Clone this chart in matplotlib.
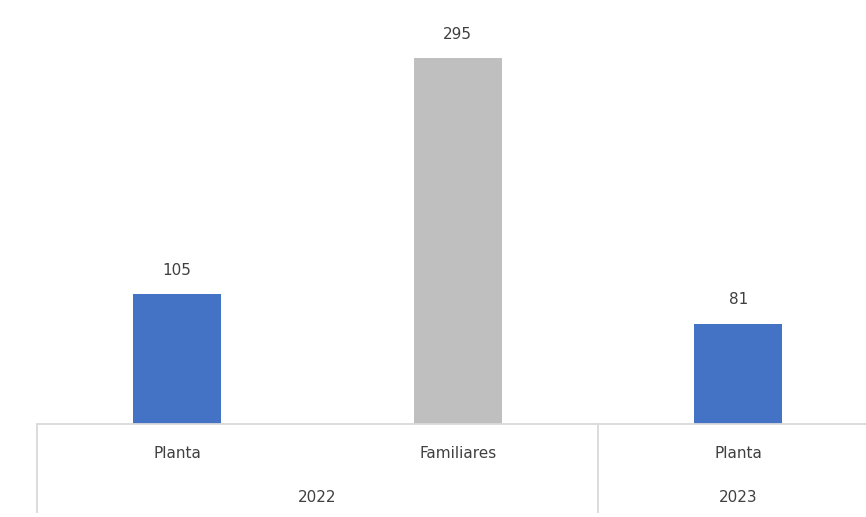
import matplotlib
matplotlib.use("Agg")
import matplotlib.pyplot as plt
from matplotlib.transforms import blended_transform_factory

# data
categories = ["Planta", "Familiares", "Planta"]
values = [105, 295, 81]
colors = ["#4472C4", "#BFBFBF", "#4472C4"]
years = ["2022", "2023"]
year_spans = [(0, 1), (2, 2)]  # category index range per year

W, H = 866, 517
fig = plt.figure(figsize=(W / 100, H / 100), dpi=100)

# axes: baseline at y=424 px, left edge at x=37 px, three 281 px slots
ax_bottom = 424
ax_top = 20
px_per_unit = (424 - 58) / 295
ax = fig.add_axes([37 / W, 1 - ax_bottom / H, 3 * 280.5 / W, (ax_bottom - ax_top) / H])
ax.set_xlim(-0.5, 2.5)
ax.set_ylim(0, (ax_bottom - ax_top) / px_per_unit)

x = list(range(len(values)))
bars = ax.bar(x, values, width=0.313, color=colors, zorder=2)

txt = "#404040"
for xi, v in zip(x, values):
    ax.annotate(f"{v}", (xi, v), xytext=(0, 17), textcoords="offset points",
                ha="center", va="center", fontsize=11, color=txt)

for s in ["top", "right", "left"]:
    ax.spines[s].set_visible(False)
ax.spines["bottom"].set_color("#D9D9D9")
ax.spines["bottom"].set_linewidth(1.3)
ax.set_yticks([])
ax.set_xticks([])

# category labels and year groups under the axis
trans = blended_transform_factory(ax.transData, ax.transAxes)
ax_h = ax_bottom - ax_top
def ypx(p):
    return -(p - ax_bottom) / ax_h

for xi, c in zip(x, categories):
    ax.text(xi, ypx(453), c, transform=trans, ha="center", va="center",
            fontsize=11, color=txt)
for yr, (a, b) in zip(years, year_spans):
    ax.text((a + b) / 2, ypx(497), yr, transform=trans, ha="center", va="center",
            fontsize=11, color=txt)

# group separators
for sep in [-0.5, 1.5]:
    ax.plot([sep, sep], [0, ypx(512)], transform=trans, color="#D9D9D9",
            lw=1.3, clip_on=False)

fig.savefig("out.png", dpi=100)
